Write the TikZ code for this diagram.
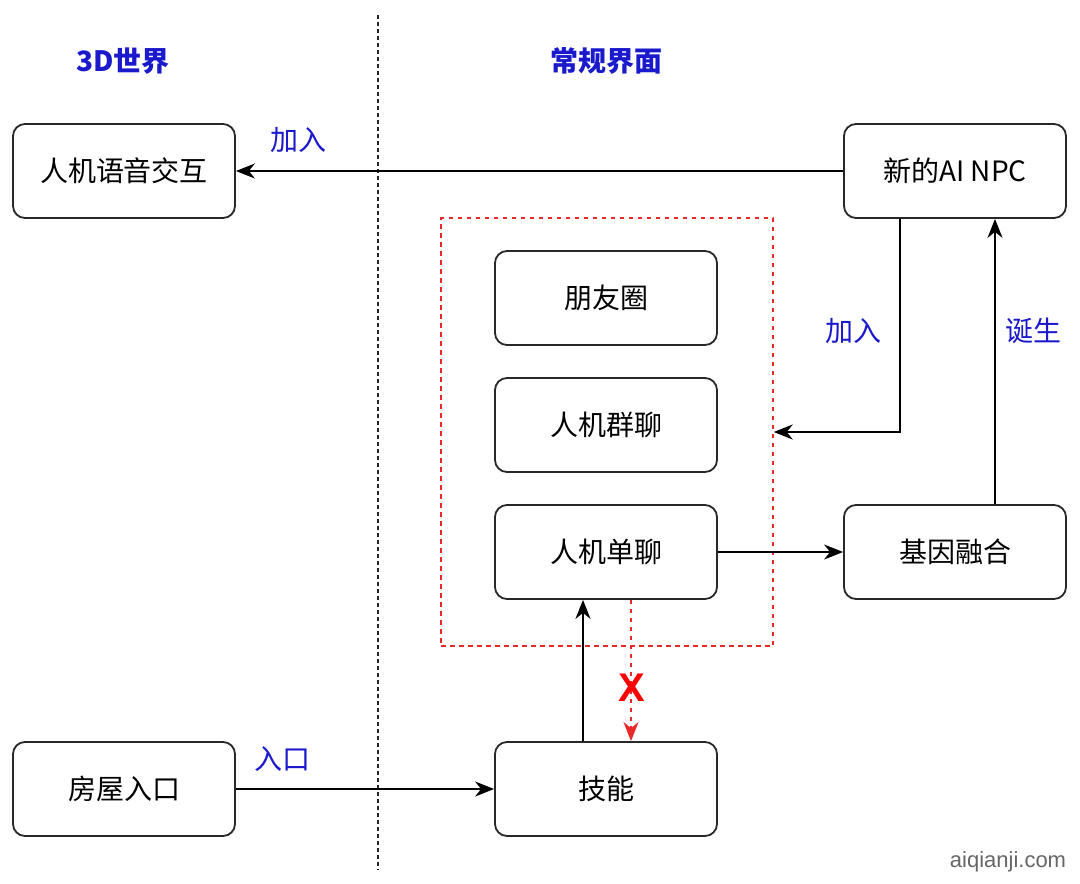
\documentclass[tikz,border=0pt]{standalone}
\usepackage{fontspec}
\setmainfont{Noto Sans CJK SC}
\newfontfamily\wmfont{Liberation Sans}
\usetikzlibrary{arrows.meta}
\definecolor{lblblue}{RGB}{26,26,204}
\definecolor{boxline}{RGB}{40,40,40}
\definecolor{dred}{RGB}{235,40,40}
\begin{document}
\begin{tikzpicture}[x=1pt,y=-1pt,
  box/.style={draw=boxline, line width=1.8pt, rounded corners=12pt, minimum width=222pt, minimum height=94pt, inner sep=0pt, font=\fontsize{28}{32}\selectfont},
  lbl/.style={text=lblblue, font=\fontsize{28}{32}\selectfont, inner sep=0pt},
  ttl/.style={text=lblblue, font=\bfseries\fontsize{28}{32}\selectfont, inner sep=0pt},
  conn/.style={draw=black, line width=1.7pt, -{Stealth[length=19pt,width=15pt,inset=6pt]}},
  redconn/.style={draw=dred, line width=1.6pt, dash pattern=on 4.5pt off 4.5pt, -{Stealth[length=19pt,width=15pt,inset=6pt]}}
]
\useasboundingbox (0,0) rectangle (1080,884);
\fill[white] (0,0) rectangle (1080,884);

% separator
\coordinate (sepT) at (378,15);
\coordinate (sepB) at (378,870);
\draw[black!85, line width=1.7pt, dash pattern=on 3.5pt off 3.5pt] (sepT) -- (sepB);

% titles
\node[ttl] (t3d) at (123,61) {3D世界};
\node[ttl] (tui) at (606,61) {常规界面};

% red group
\node[draw=dred, line width=1.5pt, dash pattern=on 4.5pt off 4.5pt, minimum width=332pt, minimum height=428pt, inner sep=0pt] (grp) at (607,432) {};

% boxes
\node[box] (voice) at (124,171) {人机语音交互};
\node[box] (npc) at (955,171) {新的AI NPC};
\node[box] (moments) at (606,298) {朋友圈};
\node[box] (group) at (606,425) {人机群聊};
\node[box] (single) at (606,552) {人机单聊};
\node[box] (gene) at (955,552) {基因融合};
\node[box] (house) at (124,789) {房屋入口};
\node[box] (skill) at (606,789) {技能};

% connectors
\draw[conn] (npc.west) -- (voice.east);
\draw[conn] ([xshift=-55pt]npc.south) |- (grp.east);
\draw[conn] ([xshift=40pt]gene.north) -- ([xshift=40pt]npc.south);
\draw[conn] (single.east) -- (gene.west);
\draw[conn] ([xshift=-23pt]skill.north) -- ([xshift=-23pt]single.south);
\draw[redconn] ([xshift=25pt]single.south) -- ([xshift=25pt]skill.north);
\draw[conn] (house.east) -- (skill.west);

% labels
\node[lbl] (l1) at (298,140) {加入};
\node[lbl] (l2) at (853,331) {加入};
\node[lbl] (l3) at (1033,331) {诞生};
\node[lbl] (l4) at (282,759) {入口};
\node[text=red, font=\wmfont\bfseries\fontsize{40}{44}\selectfont, inner sep=0pt] (xmark) at (632,688) {X};

% watermark
\node[text=black!60, font=\wmfont\fontsize{22}{26}\selectfont, inner sep=0pt] (wm) at (1008,862) {aiqianji.com};
\end{tikzpicture}
\end{document}
